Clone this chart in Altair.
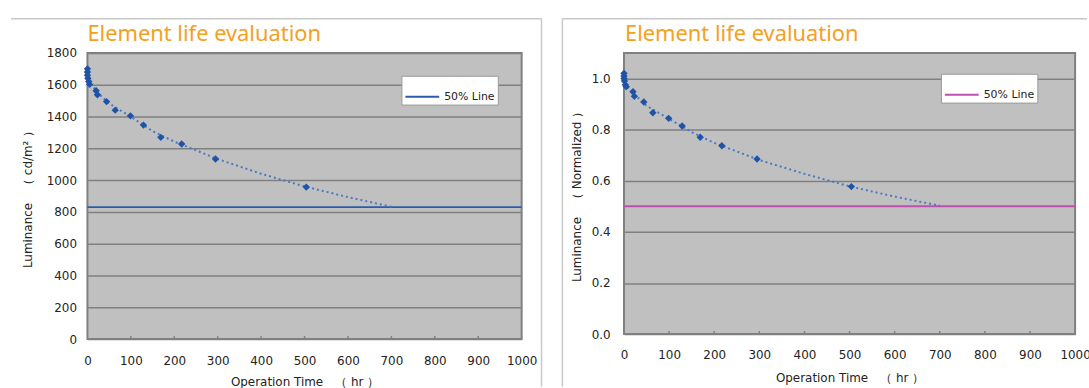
import altair as alt
import pandas as pd

# ---- data ----
time_hr = [0, 0, 0, 1, 3, 5, 20, 23, 44, 64, 99, 129, 169, 217, 295, 504]
lum_cd = [1700, 1680, 1660, 1640, 1620, 1602, 1562, 1537, 1494, 1440, 1404, 1346, 1269, 1227, 1133, 956]
lum_norm = [1.02, 1.01, 1.0, 0.99, 0.975, 0.968, 0.948, 0.93, 0.908, 0.866, 0.844, 0.814, 0.77, 0.737, 0.685, 0.577]

trend_time = [0, 25, 50, 100, 150, 200, 300, 400, 500, 600, 700]
trend_cd = [1630, 1545, 1482, 1398, 1308, 1242, 1132, 1040, 960, 893, 832]
trend_norm = [0.982, 0.935, 0.893, 0.842, 0.79, 0.748, 0.681, 0.627, 0.578, 0.538, 0.502]

half_cd = 830
half_norm = 0.5
legend_label = "50% Line"
x_ticks = [0, 100, 200, 300, 400, 500, 600, 700, 800, 900, 1000]
y_ticks_cd = [0, 200, 400, 600, 800, 1000, 1200, 1400, 1600, 1800]
y_ticks_norm = [0.0, 0.2, 0.4, 0.6, 0.8, 1.0]

TITLE = "Element life evaluation"
X_TITLE = "Operation Time　（ hr ）"
Y_TITLE_CD = "Luminance　（ cd/m² ）"
Y_TITLE_NORM = "Luminance　（ Normalized ）"

POINT_COLOR = "#2153A5"
TREND_COLOR = "#4A78C4"
FRAME_COLOR = "#C8C8C8"
TITLE_COLOR = "#F5A01E"


def panel(vals, trend, half, ydomain, yticks, yfmt, ytitle, line_color,
          w, h, ytitle_x, ylab_pad, xlab_pad, xtitle_y, frame_top, frame_vert,
          legend_x, legend_y, title_x):
    pts = pd.DataFrame({"t": time_hr, "v": vals})
    tr = pd.DataFrame({"t": trend_time, "v": trend})
    hl = pd.DataFrame({"v": [half], "s": [legend_label]})
    tk = pd.DataFrame({"t": x_ticks[1:-1]})
    one = pd.DataFrame({"k": [0]})
    ttl = pd.DataFrame({"title": [TITLE]})

    x_enc = alt.X("t:Q", scale=alt.Scale(domain=[0, 1000], nice=False),
                  axis=alt.Axis(values=x_ticks, format="d", title=X_TITLE, grid=False,
                                ticks=False, domain=False, labelPadding=xlab_pad,
                                labelFlush=False, titleY=xtitle_y,
                                titleBaseline="middle"))
    y_enc = alt.Y("v:Q", scale=alt.Scale(domain=ydomain, nice=False),
                  axis=alt.Axis(values=yticks, format=yfmt, title=ytitle, grid=True,
                                gridColor="#808080", gridWidth=1.5, ticks=False,
                                domain=False, labelPadding=ylab_pad, titleX=ytitle_x,
                                titleY=h / 2, titleBaseline="middle"))

    top_line = alt.Chart(one).mark_rule(color=FRAME_COLOR, strokeWidth=1.5).encode(
        x=alt.value(frame_top[0]), x2=alt.value(frame_top[1]), y=alt.value(-34.5))
    side_line = alt.Chart(one).mark_rule(color=FRAME_COLOR, strokeWidth=1.5).encode(
        x=alt.value(frame_vert), y=alt.value(-34.5), y2=alt.value(336))
    title_text = alt.Chart(ttl).mark_text(
        align="left", baseline="alphabetic", font="Noto Sans", fontSize=22,
        color=TITLE_COLOR).encode(text="title:N", x=alt.value(title_x), y=alt.value(-12))
    inner_ticks = alt.Chart(tk).mark_rule(color="#808080", strokeWidth=1.5).encode(
        x=x_enc, y=alt.value(h), y2=alt.value(h - 3))

    half_rule = alt.Chart(hl).mark_rule(strokeWidth=2).encode(
        y=y_enc,
        color=alt.Color("s:N", scale=alt.Scale(domain=[legend_label], range=[line_color]),
                        legend=alt.Legend(title=None, orient="none", legendX=legend_x,
                                          legendY=legend_y, symbolType="stroke",
                                          symbolSize=1156, symbolStrokeWidth=2,
                                          fillColor="white", strokeColor="#999999",
                                          padding=3, labelOffset=4,
                                          labelFont="DejaVu Sans", labelFontSize=11,
                                          labelColor="#222222")))
    trend_line = alt.Chart(tr).mark_line(color=TREND_COLOR, strokeWidth=2,
                                         strokeDash=[2, 3]).encode(x=x_enc, y=y_enc)
    points = alt.Chart(pts).mark_point(shape="diamond", filled=True, size=55,
                                       color=POINT_COLOR, opacity=1).encode(x=x_enc, y=y_enc)

    return alt.layer(top_line, side_line, title_text, inner_ticks, half_rule,
                     trend_line, points).properties(width=w, height=h)


left = panel(lum_cd, trend_cd, half_cd, [0, 1800], y_ticks_cd, "d", Y_TITLE_CD,
             "#2A5BAE", 437, 288, -60, 11, 17, 43, (-77, 457), 457, 316, 23, 0)
right = panel(lum_norm, trend_norm, half_norm, [0, 1.1], y_ticks_norm, ".1f", Y_TITLE_NORM,
              "#C04FB0", 454, 283, -48, 14, 16, 44, (-62, 466), -62, 319, 21, 1)

chart = alt.hconcat(left, right, spacing=17).resolve_scale(
    color="independent", x="independent", y="independent"
).properties(
    padding={"left": 9, "top": 15, "right": -3, "bottom": 0},
    background="white"
).configure_axis(
    labelFont="DejaVu Sans", labelFontSize=12, labelColor="#222222",
    titleFont="DejaVu Sans", titleFontSize=12, titleFontWeight="normal", titleColor="#222222"
).configure_view(
    fill="#C0C0C0", stroke="#808080", strokeWidth=2
)

chart.save("out.html", embed_options={"renderer": "svg", "actions": False})
